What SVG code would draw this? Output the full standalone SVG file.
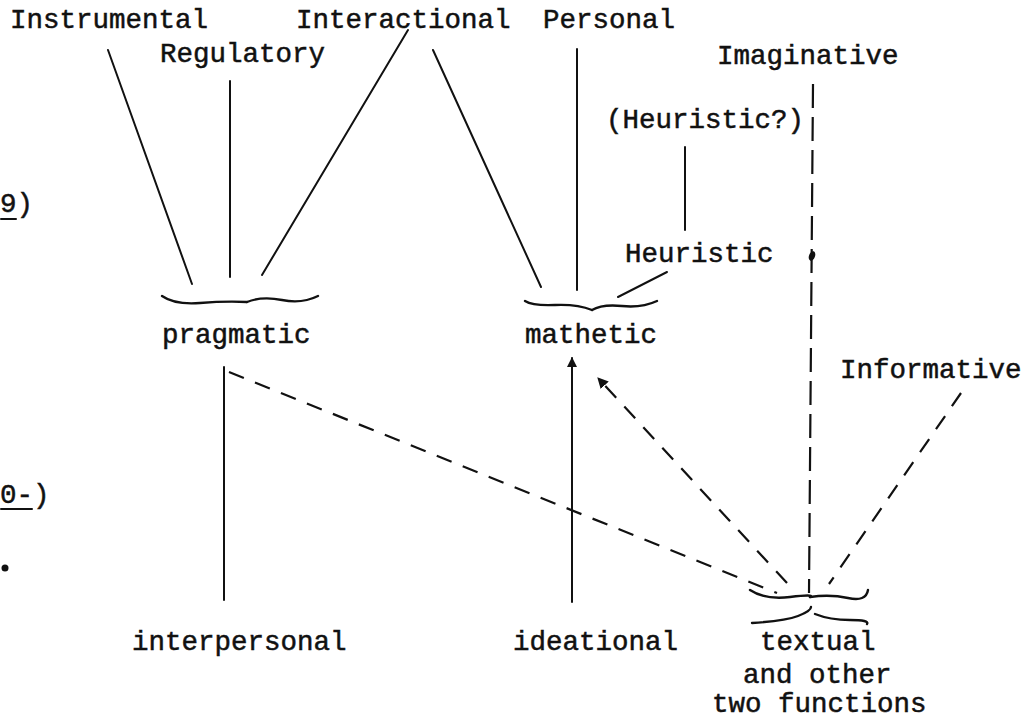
<svg xmlns="http://www.w3.org/2000/svg" width="1026" height="719" viewBox="0 0 1026 719">
<style>
text{font-family:"Liberation Mono","DejaVu Sans Mono",monospace;font-size:27.5px;fill:#111;stroke:#111;stroke-width:0.5}
.s{stroke:#111;stroke-width:2;fill:none;stroke-linecap:round}
.d{stroke:#111;stroke-width:2.2;fill:none;stroke-dasharray:16 12}
.dv{stroke:#111;stroke-width:2.2;fill:none;stroke-dasharray:24 9}
.b{stroke:#111;stroke-width:2.4;fill:none;stroke-linecap:round}
</style>
<defs>
<marker id="ah" viewBox="0 0 10 10" refX="9" refY="5" markerWidth="5" markerHeight="5" orient="auto" markerUnits="strokeWidth">
<path d="M0,0 L10,5 L0,10 Z" fill="#111"/>
</marker>
</defs>
<rect width="1026" height="719" fill="#fff"/>
<g id="margin">
<text x="0" y="212">9)</text>
<line class="s" x1="1" y1="219" x2="16" y2="219"/>
<text x="0" y="503">0-)</text>
<line class="s" x1="1" y1="509" x2="32" y2="509"/>
<circle cx="5" cy="568" r="3.5" fill="#111"/>
</g>
<g id="n-instrumental"><text x="10" y="28">Instrumental</text></g>
<g id="n-regulatory"><text x="160" y="62">Regulatory</text></g>
<g id="n-interactional"><text x="296" y="28">Interactional</text></g>
<g id="n-personal"><text x="543" y="28">Personal</text></g>
<g id="n-imaginative"><text x="717" y="64">Imaginative</text></g>
<g id="n-heuristicq"><text x="606" y="128">(Heuristic?)</text></g>
<g id="n-heuristic"><text x="625" y="262">Heuristic</text></g>
<g id="n-pragmatic"><text x="162" y="343">pragmatic</text>
<path class="b" d="M162,296 Q175,305 200,303 T247,302"/>
<path class="b" d="M247,302 Q262,296 282,300 T318,296"/>
</g>
<g id="n-mathetic"><text x="525" y="343">mathetic</text>
<path class="b" d="M525,301 Q533,306 555,305 T592,310"/>
<path class="b" d="M592,310 Q602,304 622,306 T657,301"/>
</g>
<g id="n-informative"><text x="840" y="378">Informative</text></g>
<g id="n-interpersonal"><text x="132" y="650">interpersonal</text></g>
<g id="n-ideational"><text x="513" y="650">ideational</text></g>
<g id="n-textual"><text x="760" y="650">textual</text>
<text x="743" y="683">and other</text>
<text x="712" y="712">two functions</text>
<path class="b" d="M750,590 Q765,600 790,597 T810,597"/>
<path class="b" d="M810,597 Q830,594 848,598 T868,590"/>
<path class="b" d="M752,623 Q785,621 798,616 T811,607"/>
<path class="b" d="M815,614 Q830,620 850,620 T867,624"/>
</g>
<g id="connectors">
<line class="s" x1="108" y1="50" x2="192" y2="284"/>
<line class="s" x1="230" y1="81" x2="230" y2="277"/>
<line class="s" x1="408" y1="30" x2="262" y2="275"/>
<line class="s" x1="433" y1="50" x2="541" y2="287"/>
<line class="s" x1="577" y1="49" x2="577" y2="290"/>
<line class="s" x1="685" y1="147" x2="685" y2="230"/>
<line class="s" x1="667" y1="272" x2="618" y2="297"/>
<line class="dv" x1="813" y1="84" x2="809" y2="593"/>
<ellipse cx="812" cy="256" rx="3" ry="5" transform="rotate(20 812 256)" fill="#111"/>
<line class="s" x1="224" y1="367" x2="224" y2="600"/>
<line class="s" x1="572" y1="602" x2="572" y2="358" marker-end="url(#ah)"/>
<line class="d" x1="229" y1="372" x2="777" y2="593"/>
<line class="d" x1="787" y1="583" x2="598" y2="378" stroke-dasharray="12 12" marker-end="url(#ah)"/>
<line class="d" x1="961" y1="393" x2="829" y2="584" stroke-dasharray="14 12"/>
</g>
</svg>
